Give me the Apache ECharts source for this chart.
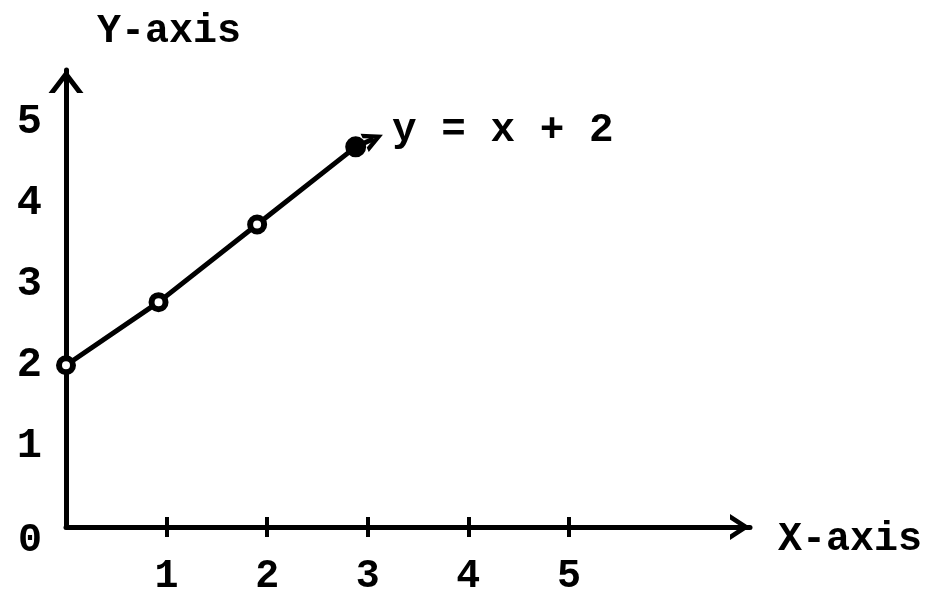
<!DOCTYPE html>
<html>
<head>
<meta charset="utf-8">
<script src="https://cdn.jsdelivr.net/npm/echarts@6/dist/echarts.min.js"></script>
<style>
  html, body { margin: 0; padding: 0; background: #fff; }
  #chart { width: 933px; height: 593px; }
</style>
</head>
<body>
<div id="chart"></div>
<script>
// Plotted points of the line y = x + 2
const xValues = [0, 0.92, 1.9, 2.88];
const yValues = [2, 2.78, 3.74, 4.7];
// where the arrow on the line ends
const arrowTip = [3.06, 4.8];
const xTickLabels = [1, 2, 3, 4, 5];
const yTickLabels = [0, 1, 2, 3, 4, 5];
const lineLabel = 'y = x + 2';
const xName = 'X-axis';
const yName = 'Y-axis';

const FONT = '"Liberation Mono", "DejaVu Sans Mono", monospace';
const INK = '#000';

// open chevron heads, drawn pointing "up" (rotated by ECharts)
const yArrow = 'path://M0,23 L17.5,0 L35,23 L28.7,23 L17.5,8.2 L6.3,23 Z';
const xArrow = 'path://M0,20 L13,0 L26,20 L20.5,20 L13,8.5 L5.5,20 Z';
const lineArrow = 'path://M0,16 L10,0 L20,16 L15,16 L10,7.5 L5,16 Z';

const points = xValues.map((x, i) => {
  const last = i === xValues.length - 1;
  return {
    value: [x, yValues[i]],
    symbolSize: last ? 18 : 14,
    itemStyle: { color: last ? INK : '#fff', borderColor: INK, borderWidth: last ? 3 : 6 }
  };
});

const chart = echarts.init(document.getElementById('chart'), null, { renderer: 'canvas' });

chart.setOption({
  animation: false,
  backgroundColor: '#fff',
  grid: {
    left: 66, top: 70, right: 183, bottom: 66,
    containLabel: false, outerBoundsMode: 'none'
  },
  xAxis: [
    {
      type: 'value', min: 0, max: 6.8,
      splitLine: { show: false },
      axisLine: {
        onZero: false,
        lineStyle: { color: INK, width: 5 },
        symbol: ['none', xArrow], symbolSize: [26, 20], symbolOffset: [0, -10]
      },
      axisTick: { show: true, length: 10, customValues: xTickLabels, lineStyle: { color: INK, width: 4 } },
      axisLabel: {
        customValues: xTickLabels, margin: 30,
        color: INK, fontFamily: FONT, fontWeight: 'bold', fontSize: 40
      },
      name: xName, nameLocation: 'end', nameGap: 28,
      nameTextStyle: {
        color: INK, fontFamily: FONT, fontWeight: 'bold', fontSize: 40,
        align: 'left', verticalAlign: 'top', lineHeight: 26
      }
    },
    {
      // inner half of the x tick marks so they cross the axis
      type: 'value', min: 0, max: 6.8, position: 'bottom',
      splitLine: { show: false },
      axisLine: { show: false, onZero: false },
      axisTick: { show: true, inside: true, length: 10, customValues: xTickLabels, lineStyle: { color: INK, width: 4 } },
      axisLabel: { show: false }
    }
  ],
  yAxis: {
    type: 'value', min: 0, max: 5.65,
    splitLine: { show: false },
    axisLine: {
      onZero: false,
      lineStyle: { color: INK, width: 5 },
      symbol: ['none', yArrow], symbolSize: [35, 23], symbolOffset: [0, -11.5]
    },
    axisTick: { show: false },
    axisLabel: {
      customValues: yTickLabels, margin: 24, align: 'right',
      color: INK, fontFamily: FONT, fontWeight: 'bold', fontSize: 42,
      formatter: v => (v === 0 ? '{z|0}' : String(v)),
      rich: {
        z: { padding: [28, 0, 0, 0], color: INK, fontFamily: FONT, fontWeight: 'bold', fontSize: 40 }
      }
    },
    name: yName, nameLocation: 'end', nameGap: 18,
    nameTextStyle: {
      color: INK, fontFamily: FONT, fontWeight: 'bold', fontSize: 40,
      align: 'left', padding: [0, 0, 0, 31]
    }
  },
  series: [
    {
      type: 'line',
      data: points,
      symbol: 'circle',
      lineStyle: { color: INK, width: 5 },
      z: 3
    },
    {
      type: 'lines',
      coordinateSystem: 'cartesian2d',
      symbol: ['none', lineArrow], symbolSize: 20,
      lineStyle: { color: INK, width: 5, opacity: 1 },
      label: {
        show: true, position: 'end', distance: 20,
        padding: [0, 0, 32, 0],
        formatter: lineLabel,
        color: INK, fontFamily: FONT, fontWeight: 'bold', fontSize: 41
      },
      data: [{ coords: [[xValues[xValues.length - 1], yValues[yValues.length - 1]], arrowTip] }],
      z: 2
    }
  ]
});
</script>
</body>
</html>
